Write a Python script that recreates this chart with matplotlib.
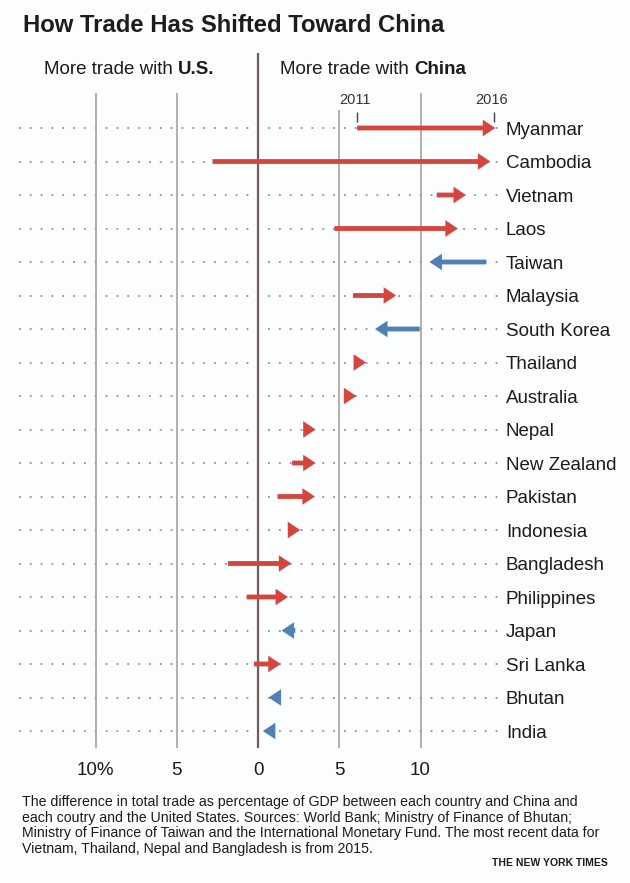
import numpy as np
import matplotlib.pyplot as plt

plt.rcParams['font.family'] = ['Liberation Sans', 'DejaVu Sans']

countries = ['Myanmar', 'Cambodia', 'Vietnam', 'Laos', 'Taiwan', 'Malaysia',
             'South Korea', 'Thailand', 'Australia', 'Nepal', 'New Zealand',
             'Pakistan', 'Indonesia', 'Bangladesh', 'Philippines', 'Japan',
             'Sri Lanka', 'Bhutan', 'India']
start_2011 = [6.1, -2.8, 11.0, 4.7, 14.05, 5.85, 9.95, 6.0, 5.5, 3.0, 2.1,
              1.2, 2.0, -1.85, -0.7, 2.3, -0.25, 1.3, 1.05]
end_2016 = [14.6, 14.3, 12.8, 12.3, 10.55, 8.5, 7.2, 6.65, 6.05, 3.55, 3.55,
            3.5, 2.6, 2.05, 1.85, 1.45, 1.4, 0.65, 0.3]

grid_values = [-10, -5, 0, 5, 10]
grid_labels = ['10%', '5', '0', '5', '10']

W, H = 630, 883
RED = '#d6443e'
BLUE = '#4f80b6'
TXT = '#1f1a1b'

fig = plt.figure(figsize=(W / 100, H / 100), dpi=100)
fig.patch.set_facecolor('#fcfdfe')

# axes placed in pixel terms: zero at x=258, 16.25 px per unit
x0_px, px_per = 258, 16.25
xmin, xmax = -14.7, 15.0
left_px = x0_px + xmin * px_per
right_px = x0_px + xmax * px_per
top_px, bot_px = 53, 748
row0_px, row_step = 128, 33.5
ax = fig.add_axes([left_px / W, 1 - bot_px / H, (right_px - left_px) / W, (bot_px - top_px) / H])
ax.set_facecolor('none')
ax.set_xlim(xmin, xmax)
ax.set_ylim((bot_px - row0_px) / row_step, (top_px - row0_px) / row_step)
for s in ax.spines.values():
    s.set_visible(False)

n = len(countries)
rows = np.arange(n)

# dotted row guides
ax.hlines(rows, xmin, xmax, colors='#958f8f', linestyles=(0, (1, 5)), lw=1.3, zorder=1)

# vertical gridlines
ylo = (bot_px - row0_px) / row_step
for v in grid_values:
    if v == 0:
        ax.vlines(v, ylo, (top_px - row0_px) / row_step, colors='#6e5f5f', lw=1.6, zorder=2)
    elif v == 5:
        ax.vlines(v, ylo, (110 - row0_px) / row_step, colors='#ab9f9f', lw=1.2, zorder=2)
    else:
        ax.vlines(v, ylo, (93 - row0_px) / row_step, colors='#ab9f9f', lw=1.2, zorder=2)

# arrows
hl = 12.5 / px_per        # head length in x units
hw = 8.3 / row_step       # half head width in row units
sw = 2.4 / row_step       # half shaft width
for i, (s, e) in enumerate(zip(start_2011, end_2016)):
    d = 1 if e >= s else -1
    col = RED if d > 0 else BLUE
    b = e - d * hl
    if abs(e - s) > hl:
        xs = [s, b, b, e, b, b, s]
        ys = [i - sw, i - sw, i - hw, i, i + hw, i + sw, i + sw]
    else:
        xs = [b, e, b]
        ys = [i - hw, i, i + hw]
    ax.fill(xs, ys, color=col, lw=0, zorder=3)

# year markers from Myanmar arrow
y_tick_top, y_tick_bot = (112 - row0_px) / row_step, (122 - row0_px) / row_step
for xv, lab in [(start_2011[0], '2011'), (end_2016[0] - 0.1, '2016')]:
    ax.vlines(xv, y_tick_bot, y_tick_top, colors='#4a4040', lw=1.0, zorder=3)
    ax.text(xv - 0.15, (100 - row0_px) / row_step, lab, ha='center', va='center',
            fontsize=10.5, color='#3a3030')

# x tick labels
ax.set_xticks(grid_values)
ax.set_xticklabels(grid_labels, fontsize=13.5, color=TXT)
ax.tick_params(axis='x', length=0, pad=10)

# country labels on the right
ax.set_yticks(rows)
ax.set_yticklabels(countries, fontsize=13.5, color=TXT)
ax.yaxis.tick_right()
ax.tick_params(axis='y', length=0, pad=3)

# title and headers
fig.text(23 / W, 1 - 26 / H, 'How Trade Has Shifted Toward China', fontsize=17.2,
         fontweight='bold', color=TXT, ha='left', va='center')
t1 = fig.text(44 / W, 1 - 69.5 / H, 'More trade with ', fontsize=13.5, color=TXT,
              ha='left', va='center')
ax.annotate('U.S.', xy=(1, 0), xycoords=t1, ha='left', va='bottom', fontsize=13.5,
            fontweight='bold', color=TXT, annotation_clip=False)
t2 = fig.text(280 / W, 1 - 69.5 / H, 'More trade with ', fontsize=13.5, color=TXT,
              ha='left', va='center')
ax.annotate('China', xy=(1, 0), xycoords=t2, ha='left', va='bottom', fontsize=13.5,
            fontweight='bold', color=TXT, annotation_clip=False)

note = ('The difference in total trade as percentage of GDP between each country and China and\n'
        'each coutry and the United States. Sources: World Bank; Ministry of Finance of Bhutan;\n'
        'Ministry of Finance of Taiwan and the International Monetary Fund. The most recent data for\n'
        'Vietnam, Thailand, Nepal and Bangladesh is from 2015.')
fig.text(22 / W, 1 - 795 / H, note, fontsize=10.2, color=TXT, ha='left', va='top',
         linespacing=1.15)
fig.text(608 / W, 1 - 863 / H, 'THE NEW YORK TIMES', fontsize=7.5, fontweight='bold',
         color=TXT, ha='right', va='center')

fig.savefig('out.png', dpi=100, facecolor=fig.get_facecolor())
